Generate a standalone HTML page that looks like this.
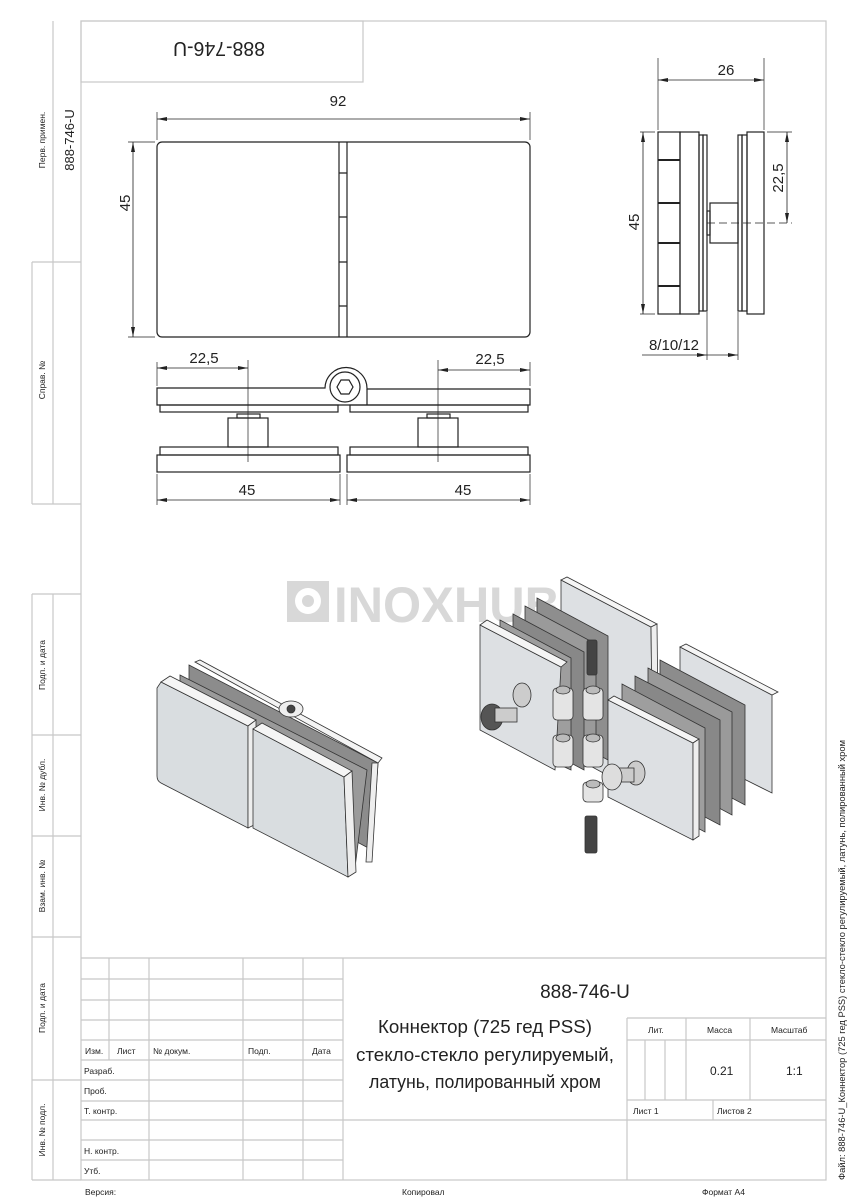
<!DOCTYPE html>
<html><head><meta charset="utf-8"><style>
html,body{margin:0;padding:0;background:#fff}
svg{display:block}
text{font-family:"Liberation Sans Narrow","Liberation Sans","DejaVu Sans",sans-serif;fill:#222}
</style></head><body>
<svg width="848" height="1200" viewBox="0 0 848 1200" xmlns="http://www.w3.org/2000/svg">
<!-- frame -->
<g stroke="#c8c8c8" stroke-width="1.2" fill="none">
<rect x="81" y="21" width="745" height="1159"/>
<rect x="81" y="21" width="282" height="61"/>
<path d="M53 21V504M32 262V504M32 262H81M32 504H81M32 594V1180M53 594V1180M32 594H81M32 735H81M32 836H81M32 937H81M32 1080H81M32 1180H81"/>
<path d="M81 958H826M81 979H343M81 1000H343M81 1020H343M81 1040H343M81 1060H343M81 1080H343M81 1101H343M81 1120H826M81 1140H343M81 1160H343"/>
<path d="M109 958V1060M149 958V1180M243 958V1180M303 958V1180M343 958V1180M627 1018V1180M627 1018H826M627 1040H826M627 1100H826M686 1018V1100M750 1018V1100M645 1040V1100M665 1040V1100M713 1100V1120"/>
</g>
<g font-size="8.5" fill="#333">
<text transform="translate(45,140) rotate(-90)" text-anchor="middle">Перв. примен.</text>
<text transform="translate(74,140) rotate(-90)" text-anchor="middle" font-size="13">888-746-U</text>
<text transform="translate(45,380) rotate(-90)" text-anchor="middle">Справ. №</text>
<text transform="translate(45,665) rotate(-90)" text-anchor="middle">Подп. и дата</text>
<text transform="translate(45,785) rotate(-90)" text-anchor="middle">Инв. № дубл.</text>
<text transform="translate(45,886) rotate(-90)" text-anchor="middle">Взам. инв. №</text>
<text transform="translate(45,1008) rotate(-90)" text-anchor="middle">Подп. и дата</text>
<text transform="translate(45,1130) rotate(-90)" text-anchor="middle">Инв. № подл.</text>
<text transform="translate(845,1180) rotate(-90)" font-size="9" textLength="440" lengthAdjust="spacingAndGlyphs">Файл: 888-746-U_Коннектор (725 гед PSS) стекло-стекло регулируемый, латунь, полированный хром</text>
<text x="85" y="1054">Изм.</text><text x="117" y="1054">Лист</text><text x="153" y="1054">№ докум.</text><text x="248" y="1054">Подп.</text><text x="312" y="1054">Дата</text>
<text x="84" y="1074">Разраб.</text><text x="84" y="1094">Проб.</text><text x="84" y="1114">Т. контр.</text><text x="84" y="1154">Н. контр.</text><text x="84" y="1174">Утб.</text>
<text x="648" y="1033">Лит.</text><text x="707" y="1033">Масса</text><text x="771" y="1033">Масштаб</text>
<text x="633" y="1114">Лист 1</text><text x="717" y="1114">Листов 2</text>
<text x="85" y="1195">Версия:</text><text x="402" y="1195">Копировал</text><text x="702" y="1195">Формат А4</text>
<text x="710" y="1075" font-size="12">0.21</text><text x="786" y="1075" font-size="12">1:1</text>
</g>
<text x="585" y="998" text-anchor="middle" font-size="19">888-746-U</text>
<g font-size="18.5" text-anchor="middle"><text x="485" y="1033" textLength="214" lengthAdjust="spacingAndGlyphs">Коннектор (725 гед PSS)</text><text x="485" y="1061" textLength="258" lengthAdjust="spacingAndGlyphs">стекло-стекло регулируемый,</text><text x="485" y="1088" textLength="232" lengthAdjust="spacingAndGlyphs">латунь, полированный хром</text></g>
<text transform="translate(219,42) rotate(180)" text-anchor="middle" font-size="20" textLength="92" lengthAdjust="spacingAndGlyphs">888-746-U</text>

<!-- front view -->
<g stroke="#222" stroke-width="1.2" fill="none">
<rect x="157" y="142" width="373" height="195" rx="5"/>
<path d="M339 142V337M347 142V337M339 173H347M339 217H347M339 262H347M339 306H347"/>
<g stroke-width="0.7"><path d="M157 140V112M530 140V112M155 142H128M155 337H128"/></g>
<path d="M157 119H530M133 142V337" stroke-width="0.8"/>
</g>
<text x="338" y="106" text-anchor="middle" font-size="15">92</text>
<text transform="translate(130,203) rotate(-90)" text-anchor="middle" font-size="15">45</text>

<!-- side view -->
<g stroke="#222" stroke-width="1.2" fill="none">
<rect x="658" y="132" width="22" height="182"/>
<rect x="680" y="132" width="19" height="182"/>
<rect x="699" y="135" width="4" height="176"/><rect x="703" y="135" width="4" height="176"/>
<rect x="738" y="135" width="4" height="176"/><rect x="742" y="135" width="5" height="176"/>
<rect x="747" y="132" width="17" height="182"/>
<rect x="710" y="203" width="28" height="40"/><rect x="707" y="211" width="3" height="24"/>
<path d="M658 160H680M658 203H680M658 243H680M658 286H680" stroke-width="2"/>
<g stroke-width="0.7"><path d="M658 130V58M764 130V58M655 132H640M655 314H640M767 132H792M707 312V360M738 312V360"/><path d="M707 223H792" stroke-dasharray="8 4"/></g>
<path d="M658 80H764M643 132V314M787 132V223M642 355H738" stroke-width="0.8"/>
</g>
<text x="726" y="75" text-anchor="middle" font-size="15">26</text>
<text transform="translate(639,222) rotate(-90)" text-anchor="middle" font-size="15">45</text>
<text transform="translate(783,178) rotate(-90)" text-anchor="middle" font-size="15">22,5</text>
<text x="674" y="350" text-anchor="middle" font-size="15">8/10/12</text>

<!-- bottom view -->
<g stroke="#222" stroke-width="1.2" fill="none">
<path d="M157 388H325A20 20 0 1 1 367 389H530V405H157Z"/>
<path d="M367 389V405"/>
<circle cx="345" cy="387" r="15"/>
<path d="M341 380L349 380L353 387L349 394L341 394L337 387Z"/>
<rect x="160" y="405" width="178" height="7"/><rect x="350" y="405" width="178" height="7"/>
<rect x="228" y="418" width="40" height="29"/><rect x="237" y="414" width="23" height="4"/>
<rect x="418" y="418" width="40" height="29"/><rect x="427" y="414" width="23" height="4"/>
<rect x="160" y="447" width="178" height="8"/><rect x="350" y="447" width="178" height="8"/>
<rect x="157" y="455" width="183" height="17"/><rect x="347" y="455" width="183" height="17"/>
<g stroke-width="0.7"><path d="M157 386V362M530 386V362M248 360V462M438 360V462M157 474V505M340 474V505M347 474V505M530 474V505"/></g>
<path d="M157 368H248M438 370H530M157 500H340M347 500H530" stroke-width="0.8"/>
</g>
<g font-size="15" text-anchor="middle"><text x="204" y="363">22,5</text><text x="490" y="364">22,5</text><text x="247" y="495">45</text><text x="463" y="495">45</text></g>

<!-- arrowheads -->
<g fill="#222">
<polygon points="157,119 167,117 167,121"/><polygon points="530,119 520,117 520,121"/>
<polygon points="133,142 131,152 135,152"/><polygon points="133,337 131,327 135,327"/>
<polygon points="658,80 668,78 668,82"/><polygon points="764,80 754,78 754,82"/>
<polygon points="643,132 641,142 645,142"/><polygon points="643,314 641,304 645,304"/>
<polygon points="787,132 785,142 789,142"/><polygon points="787,223 785,213 789,213"/>
<polygon points="707,355 697,353 697,357"/><polygon points="738,355 728,353 728,357"/>
<polygon points="157,368 167,366 167,370"/><polygon points="248,368 238,366 238,370"/>
<polygon points="438,370 448,368 448,372"/><polygon points="530,370 520,368 520,372"/>
<polygon points="157,500 167,498 167,502"/><polygon points="340,500 330,498 330,502"/>
<polygon points="347,500 357,498 357,502"/><polygon points="530,500 520,498 520,502"/>
</g>

<!-- watermark -->
<g fill="#d8d8d8"><rect x="287" y="581" width="42" height="41"/><circle cx="308" cy="601" r="13" fill="#fff"/><circle cx="308" cy="601" r="6" fill="#d8d8d8"/></g>
<text x="334" y="622" font-size="50" font-weight="bold" style="fill:#d8d8d8" textLength="226" lengthAdjust="spacingAndGlyphs">INOXHUB</text>

<!-- iso left -->
<g stroke="#333" stroke-width="0.8">
<path d="M189 665L378 763L372 850L189 752Z" fill="#8c8c8c"/>
<path d="M195 662L200 660L382 758L378 763Z" fill="#f4f4f4"/>
<path d="M372 763L378 763L372 862L366 862Z" fill="#eee"/>
<path d="M180 675L367 770L355 868L180 772Z" fill="#9a9a9a"/>
<path d="M161 682L248 726L248 828L161 783Q157 781 157 776V688Z" fill="#d9dde0"/>
<path d="M161 682L170 676L256 720L248 726Z" fill="#f5f5f5"/>
<path d="M248 726L256 720L256 824L248 828Z" fill="#eeeeee"/>
<path d="M253 729L344 777L348 877L253 828Z" fill="#d9dde0"/>
<path d="M253 729L262 723L352 771L344 777Z" fill="#f5f5f5"/>
<path d="M344 777L352 771L356 872L348 877Z" fill="#eee"/>
<ellipse cx="291" cy="709" rx="12" ry="8" fill="#eee"/><circle cx="291" cy="709" r="4" fill="#444"/>
</g>

<!-- iso right exploded -->
<g stroke="#333" stroke-width="0.8">
<path d="M561 580L651 627L653 800L561 750Z" fill="#dde0e3"/>
<path d="M561 580L567 577L657 624L651 627Z" fill="#f5f5f5"/>
<path d="M651 627L657 624L659 797L653 800Z" fill="#eee"/>
<path d="M537 598L608 636L608 760L537 722Z" fill="#8e8e8e"/>
<path d="M525 606L596 644L596 765L525 727Z" fill="#9a9a9a"/>
<path d="M513 614L584 652L584 770L513 732Z" fill="#888"/>
<path d="M500 620L571 658L571 770L500 737Z" fill="#9e9e9e"/>
<path d="M480 625L561 667L555 770L480 730Z" fill="#dde0e3"/>
<path d="M480 625L487 620L567 662L561 667Z" fill="#f5f5f5"/>
<path d="M680 647L772 695L772 793L680 747Z" fill="#dde0e3"/>
<path d="M680 647L686 644L778 692L772 695Z" fill="#f5f5f5"/>
<path d="M660 660L745 705L745 805L660 760Z" fill="#8c8c8c"/>
<path d="M648 668L732 712L732 815L648 770Z" fill="#9a9a9a"/>
<path d="M635 676L720 720L720 825L635 780Z" fill="#888"/>
<path d="M622 684L705 728L705 832L622 788Z" fill="#9e9e9e"/>
<path d="M608 700L693 743L693 840L608 797Z" fill="#dde0e3"/>
<path d="M608 700L614 696L699 739L693 743Z" fill="#f5f5f5"/>
<path d="M693 743L699 739L699 836L693 840Z" fill="#eee"/>
<g fill="#e4e4e4"><rect x="553" y="688" width="20" height="32" rx="4"/><rect x="583" y="688" width="20" height="32" rx="4"/><rect x="553" y="735" width="20" height="32" rx="4"/><rect x="583" y="735" width="20" height="32" rx="4"/><rect x="583" y="782" width="20" height="20" rx="4"/></g>
<g fill="#bbb"><ellipse cx="563" cy="690" rx="7" ry="4"/><ellipse cx="593" cy="690" rx="7" ry="4"/><ellipse cx="563" cy="738" rx="7" ry="4"/><ellipse cx="593" cy="738" rx="7" ry="4"/><ellipse cx="593" cy="784" rx="7" ry="4"/></g>
<rect x="587" y="640" width="10" height="35" rx="2" fill="#444"/>
<rect x="585" y="816" width="12" height="37" rx="2" fill="#444"/>
<ellipse cx="522" cy="695" rx="9" ry="12" fill="#ccc"/>
<ellipse cx="492" cy="717" rx="11" ry="13" fill="#555"/><rect x="495" y="708" width="22" height="14" fill="#ccc"/>
<ellipse cx="636" cy="773" rx="9" ry="12" fill="#ccc"/>
<rect x="612" y="768" width="22" height="14" fill="#ccc"/><ellipse cx="612" cy="777" rx="10" ry="13" fill="#ddd"/>
</g>
</svg>
</body></html>
